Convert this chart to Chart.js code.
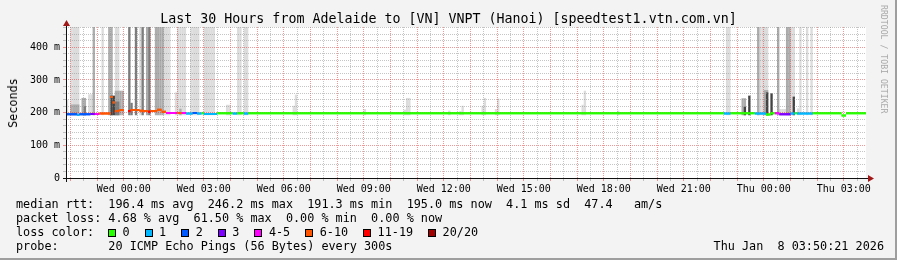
<!DOCTYPE html>
<html>
<head>
<meta charset="utf-8">
<script src="https://cdn.jsdelivr.net/npm/chart.js@4.4.1/dist/chart.umd.min.js"></script>
<style>
  body { margin: 0; background: #f3f3f3; }
  #wrap { position: relative; width: 897px; height: 260px; overflow: hidden; background: #f3f3f3;
          font-family: 'DejaVu Sans Mono', monospace; color: #000; }
  #wrap::after { content: ''; position: absolute; left: 0; top: 0; right: 0; bottom: 0; pointer-events: none;
          border-right: 2px solid #9e9e9e; border-bottom: 2px solid #9e9e9e; box-sizing: border-box; }
  canvas { position: absolute; left: 0; top: 0; }
  .t { position: absolute; white-space: pre; line-height: 14px; font-size: 11.8px; }
  #title { left: 0; width: 897px; text-align: center; top: 11px; font-size: 13.3px; line-height: 16px; }
  #ylab { left: 9px; top: 103px; transform-origin: 0 0; transform: rotate(-90deg) translate(-50%, -3px); }
  #brand { left: 891px; top: 5px; font-size: 8.2px; color: #a8a8a8; transform-origin: 0 0; transform: rotate(90deg); }
  .box { display: inline-block; width: 8px; height: 8px; border: 1px solid #000; box-sizing: border-box; vertical-align: -1px; }
  .ent { position: absolute; top: 0; }
</style>
</head>
<body>
<div id="wrap">
  <canvas id="chart" width="897" height="260"></canvas>
  <div id="title" class="t">Last 30 Hours from Adelaide to [VN] VNPT (Hanoi) [speedtest1.vtn.com.vn]</div>
  <div id="ylab" class="t">Seconds</div>
  <div id="brand" class="t">RRDTOOL / TOBI OETIKER</div>
  <div class="t" style="left:16px;top:197px">median rtt:  196.4 ms avg  246.2 ms max  191.3 ms min  195.0 ms now  4.1 ms sd  47.4   am/s</div>
  <div class="t" style="left:16px;top:211px">packet loss: 4.68 % avg  61.50 % max  0.00 % min  0.00 % now</div>
  <div class="t" id="lossrow" style="left:16px;top:225px;width:600px;height:14px">loss color:</div>
  <div class="t" style="left:16px;top:239px">probe:       20 ICMP Echo Pings (56 Bytes) every 300s</div>
  <div class="t" style="right:13px;top:239px">Thu Jan  8 03:50:21 2026</div>
</div>
<script>
// minutes are relative to Wed 00:00, one ping round every 5 minutes
const xStart = -130, xEnd = 1670;
const yTop = 462;

const xLabelMinutes = [0, 180, 360, 540, 720, 900, 1080, 1260, 1440, 1620];
const xLabels = ['Wed 00:00', 'Wed 03:00', 'Wed 06:00', 'Wed 09:00', 'Wed 12:00',
                 'Wed 15:00', 'Wed 18:00', 'Wed 21:00', 'Thu 00:00', 'Thu 03:00'];
const yLabelValues = [0, 100, 200, 300, 400];
const yLabels = ['0', '100 m', '200 m', '300 m', '400 m'];

const lossLabels = ['0', '1', '2', '3', '4-5', '6-10', '11-19', '20/20'];
const lossColors = ['#26ff00', '#00b8ff', '#0059ff', '#7e00ff', '#ff00ff', '#ff5500', '#ff0000', '#a10000'];

// median rtt: [from, to, ms, loss class]
const medianRuns = [
  [-130, -105, 195, 2], [-105, -100, 193, 1], [-100, -75, 195, 2], [-75, -65, 196, 3],
  [-65, -55, 196, 4], [-55, -30, 197, 5], [-30, -25, 248, 5], [-25, -20, 231, 5],
  [-20, -10, 205, 5], [-10, 0, 208, 5], [10, 15, 205, 6],
  [15, 35, 208, 5], [35, 45, 206, 5], [45, 55, 205, 5], [55, 60, 203, 6],
  [60, 75, 205, 5], [75, 85, 209, 5], [85, 95, 203, 5], [95, 120, 199, 4],
  [120, 130, 199, 5], [130, 140, 199, 4], [140, 155, 197, 1], [155, 165, 199, 2],
  [165, 175, 197, 1], [175, 180, 198, 0], [180, 210, 196, 1], [210, 245, 198, 0],
  [245, 255, 197, 1], [255, 270, 198, 0], [270, 280, 197, 1], [280, 1350, 198, 0],
  [1350, 1365, 197, 1], [1365, 1420, 198, 0], [1420, 1445, 197, 1], [1445, 1455, 194, 0],
  [1455, 1465, 198, 0], [1465, 1475, 198, 4], [1475, 1500, 195, 3], [1500, 1510, 197, 1],
  [1510, 1515, 198, 0], [1515, 1550, 197, 1], [1550, 1615, 198, 0], [1615, 1625, 191, 0],
  [1625, 1670, 198, 0]
];

// smoke, outer pings (lightest): [from, to, low ms, high ms]
const smokeLight = [
  [-130, -125, 192, 240], [-120, -100, 192, 470], [-80, -65, 192, 256], [-50, -45, 192, 470],
  [-20, -10, 192, 470], [35, 40, 192, 470], [90, 105, 192, 470], [115, 120, 192, 262],
  [120, 140, 192, 470], [150, 170, 192, 470], [180, 205, 192, 470], [230, 240, 192, 224],
  [255, 265, 192, 470], [270, 280, 192, 470], [380, 385, 192, 221], [385, 390, 192, 255],
  [540, 545, 192, 211], [630, 635, 192, 209], [635, 645, 192, 245], [730, 735, 192, 206],
  [755, 760, 192, 205], [760, 765, 192, 221], [805, 810, 192, 221], [810, 815, 192, 245],
  [835, 840, 192, 211], [840, 845, 192, 243], [1030, 1035, 192, 224], [1035, 1040, 192, 267],
  [1110, 1115, 192, 206], [1355, 1365, 192, 470], [1425, 1450, 192, 470], [1475, 1490, 192, 211],
  [1500, 1510, 192, 470], [1515, 1520, 192, 213], [1520, 1525, 192, 470], [1535, 1540, 192, 470],
  [1545, 1550, 192, 470]
];
const smokeMid = [
  [-120, -100, 192, 225], [-95, -85, 192, 245], [-70, -65, 192, 470], [-35, -25, 192, 470],
  [-20, 0, 192, 267], [50, 55, 192, 470], [70, 90, 192, 470], [125, 130, 192, 212],
  [1390, 1400, 192, 244], [1425, 1430, 192, 470], [1440, 1450, 192, 269], [1470, 1475, 192, 470],
  [1490, 1500, 192, 470]
];
const smokeDark = [
  [-90, -85, 192, 220], [-20, -10, 192, 234], [10, 15, 192, 470], [15, 20, 192, 230],
  [25, 30, 192, 470], [40, 45, 192, 470], [55, 60, 192, 470]
];
const smokeCore = [
  [-30, -20, 192, 252], [1395, 1400, 192, 218], [1405, 1410, 192, 252], [1445, 1450, 192, 262],
  [1455, 1460, 192, 259], [1505, 1510, 192, 249]
];

function smokeBars(runs) {
  const pts = [];
  runs.forEach(([from, to, lo, hi]) => {
    for (let t = from; t < to; t += 5) pts.push({ x: t + 2.5, y: [lo, hi] });
  });
  return pts;
}

function smokeSet(runs, color, order) {
  return {
    type: 'bar', data: smokeBars(runs), backgroundColor: color, borderWidth: 0,
    grouped: false, barPercentage: 1.06, categoryPercentage: 1, order: order
  };
}

// one line dataset per loss class; each run is a short flat stroke
const medianSets = lossColors.map((color, k) => {
  const pts = [];
  medianRuns.filter(r => r[3] === k).forEach(([from, to, ms]) => {
    pts.push({ x: from, y: ms }, { x: to, y: ms }, { x: to, y: null });
  });
  return {
    type: 'line', data: pts, borderColor: color, borderWidth: 2, pointRadius: 0,
    tension: 0, spanGaps: false, borderCapStyle: 'butt', order: 0
  };
});

// loss legend boxes
const lossRow = document.getElementById('lossrow');
let lx = 92;
lossLabels.forEach((lab, i) => {
  const e = document.createElement('span');
  e.className = 'ent';
  e.style.left = lx + 'px';
  e.innerHTML = '<span class="box" style="background:' + lossColors[i] + '"></span>';
  const tx = document.createElement('span');
  tx.textContent = lab;
  tx.style.position = 'absolute';
  tx.style.left = '14.5px';
  e.appendChild(tx);
  lossRow.appendChild(e);
  lx += 14.5 + 7.1 * lab.length + 15;
});

const majorGrid = 'rgba(225,50,50,0.5)';
const minorGrid = 'rgba(140,140,140,0.5)';
const tickFont = { family: "'DejaVu Sans Mono', monospace", size: 10 };

const rrdFrame = {
  id: 'rrdFrame',
  beforeDraw(chart) {
    const { ctx, chartArea: a } = chart;
    ctx.save();
    ctx.fillStyle = '#ffffff';
    ctx.fillRect(a.left, a.top, a.right - a.left, a.bottom - a.top);
    ctx.restore();
  },
  afterDraw(chart) {
    const { ctx, chartArea: a } = chart;
    // median strokes go above the grid, the smoke stays below it
    ctx.save();
    ctx.beginPath();
    ctx.rect(a.left, a.top, a.right - a.left, a.bottom - a.top);
    ctx.clip();
    chart.data.datasets.forEach((ds, i) => {
      if (ds.type === 'line') chart.getDatasetMeta(i).controller.draw();
    });
    ctx.restore();

    const bx = Math.round(a.left) + 0.5, by = Math.round(a.bottom) + 0.5;
    ctx.save();
    ctx.strokeStyle = '#101010';
    ctx.lineWidth = 1;
    ctx.beginPath();
    ctx.moveTo(a.left - 3, by); ctx.lineTo(a.right + 3, by);
    ctx.moveTo(bx, a.bottom + 4); ctx.lineTo(bx, a.top - 2);
    ctx.stroke();
    ctx.fillStyle = '#a01818';
    ctx.beginPath();
    ctx.moveTo(a.right + 2, by - 3.5); ctx.lineTo(a.right + 8, by); ctx.lineTo(a.right + 2, by + 3.5);
    ctx.closePath(); ctx.fill();
    ctx.beginPath();
    ctx.moveTo(bx - 3.5, a.top - 1); ctx.lineTo(bx, a.top - 7); ctx.lineTo(bx + 3.5, a.top - 1);
    ctx.closePath(); ctx.fill();
    ctx.restore();
  }
};

new Chart(document.getElementById('chart'), {
  type: 'bar',
  data: {
    datasets: [
      ...medianSets,
      smokeSet(smokeCore, '#444444', 1),
      smokeSet(smokeDark, '#7c7c7c', 2),
      smokeSet(smokeMid, '#acacac', 3),
      smokeSet(smokeLight, '#dcdcdc', 4)
    ]
  },
  options: {
    responsive: false,
    animation: false,
    layout: { padding: { top: 27, right: 31, bottom: 0, left: 0 } },
    plugins: { legend: { display: false }, tooltip: { enabled: false }, title: { display: false } },
    scales: {
      x: {
        type: 'linear', min: xStart, max: xEnd, offset: false,
        afterBuildTicks: s => {
          const t = [];
          for (let v = -120; v < xEnd; v += 30) t.push({ value: v });
          s.ticks = t;
        },
        afterFit: s => { s.height = 82; },
        ticks: {
          autoSkip: false, maxRotation: 0, padding: 2, color: '#000', font: tickFont,
          callback: v => { const i = xLabelMinutes.indexOf(v); return i >= 0 ? xLabels[i] : ''; }
        },
        grid: {
          z: 1, offset: false, tickLength: 3, lineWidth: 1,
          color: c => (c.tick && c.tick.value % 60 === 0) ? majorGrid : minorGrid,
          tickColor: c => (c.tick && c.tick.value % 60 === 0) ? majorGrid : minorGrid
        },
        border: { display: false, dash: [1, 1] }
      },
      y: {
        min: 0, max: yTop,
        afterBuildTicks: s => {
          const t = [];
          for (let v = 0; v < yTop; v += 20) t.push({ value: v });
          s.ticks = t;
        },
        afterFit: s => { s.width = 66; },
        ticks: {
          autoSkip: false, padding: 3, color: '#000', font: tickFont,
          callback: v => { const i = yLabelValues.indexOf(v); return i >= 0 ? yLabels[i] : ''; }
        },
        grid: {
          z: 1, tickLength: 3, lineWidth: 1,
          color: c => (c.tick && c.tick.value % 100 === 0) ? majorGrid : minorGrid,
          tickColor: c => (c.tick && c.tick.value % 100 === 0) ? majorGrid : minorGrid
        },
        border: { display: false, dash: [1, 1] }
      }
    }
  },
  plugins: [rrdFrame]
});
</script>
</body>
</html>
